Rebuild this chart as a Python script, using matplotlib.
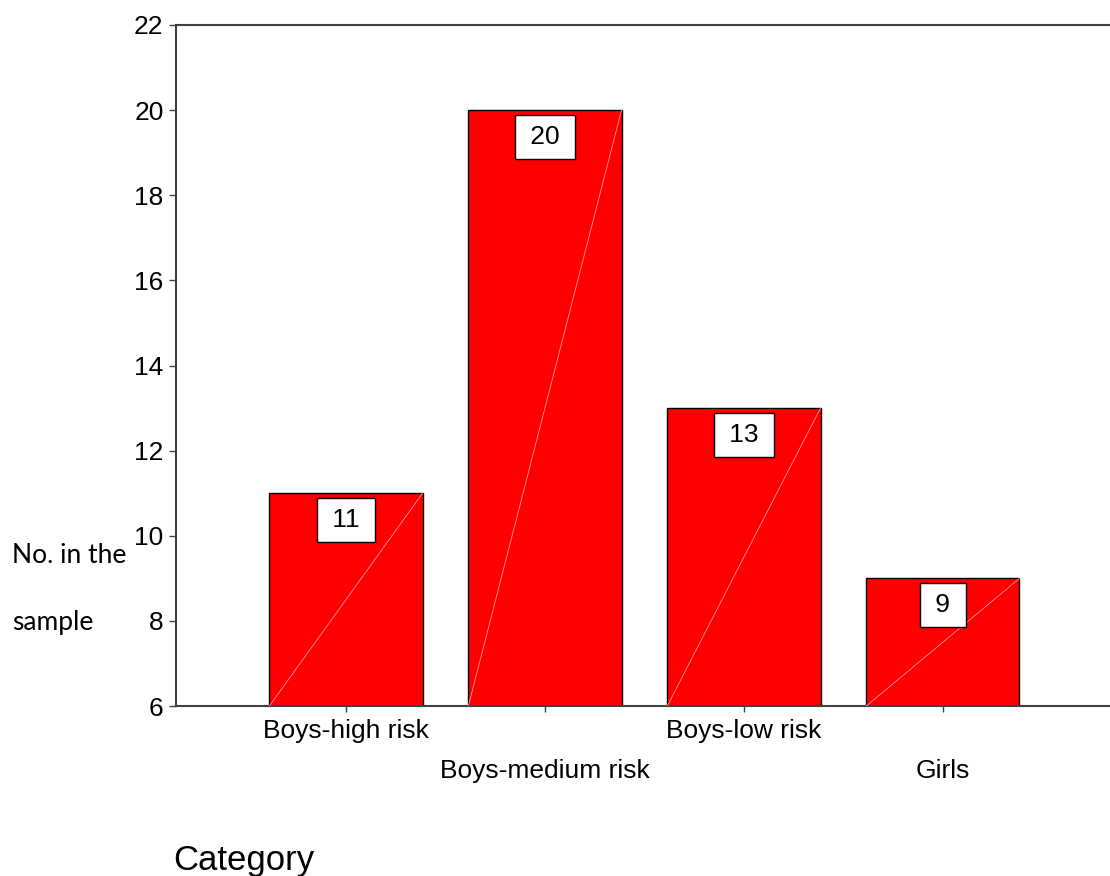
import matplotlib.pyplot as plt

categories = ["Boys-high risk", "Boys-medium risk", "Boys-low risk", "Girls"]
counts = [11, 20, 13, 9]
y_ticks = [6, 8, 10, 12, 14, 16, 18, 20, 22]

plt.rcParams["font.family"] = ["Liberation Sans", "DejaVu Sans"]

fig = plt.figure(figsize=(11.1, 8.76), dpi=100)
axis = fig.add_axes([0.1586, 0.194, 0.8414, 0.7775])

positions = list(range(len(categories)))
width = 0.77
bars = axis.bar(positions, counts, width=width, color="#ff0000",
                edgecolor="black", linewidth=1.0, zorder=2)

# faint diagonal streak seen in each bar
for pos, val in zip(positions, counts):
    axis.plot([pos - width / 2, pos + width / 2], [6, val],
              color="#ff9c9c", linewidth=0.6, zorder=3)

# value boxes
for pos, val in zip(positions, counts):
    axis.annotate(f"\u2009{val}\u2009", xy=(pos, val), xytext=(0, -10.8),
                  textcoords="offset points", ha="center", va="top",
                  fontsize=19, zorder=4,
                  bbox=dict(boxstyle="square,pad=0.38", facecolor="white",
                            edgecolor="black", linewidth=1.0))

axis.set_xlim(-0.854, 3.84)
axis.set_ylim(6, 22)
axis.set_yticks(y_ticks)
axis.tick_params(axis="y", direction="out", length=5, width=1,
                 labelsize=19, pad=4, color="#404040")

# staggered category labels
axis.set_xticks(positions[0::2])
axis.set_xticklabels(categories[0::2])
axis.set_xticks(positions[1::2], minor=True)
axis.set_xticklabels(categories[1::2], minor=True)
axis.tick_params(axis="x", which="major", direction="out", length=4,
                 width=1, labelsize=19, pad=5, color="#404040")
axis.tick_params(axis="x", which="minor", direction="out", length=4,
                 width=1, labelsize=19, pad=34, color="#404040")

for side in ["left", "bottom", "top"]:
    axis.spines[side].set_color("#404040")
    axis.spines[side].set_linewidth(1.5)
axis.spines["right"].set_visible(False)

fig.text(173 / 1110, 1 - 870 / 876, "Category", fontsize=25,
         ha="left", va="baseline")
fig.text(12 / 1110, 1 - 563 / 876, "No. in the", fontsize=19,
         family=["Lato", "DejaVu Sans"], ha="left", va="baseline")
fig.text(12 / 1110, 1 - 630 / 876, "sample", fontsize=19,
         family=["Lato", "DejaVu Sans"], ha="left", va="baseline")

fig.savefig("out.png", dpi=100)
